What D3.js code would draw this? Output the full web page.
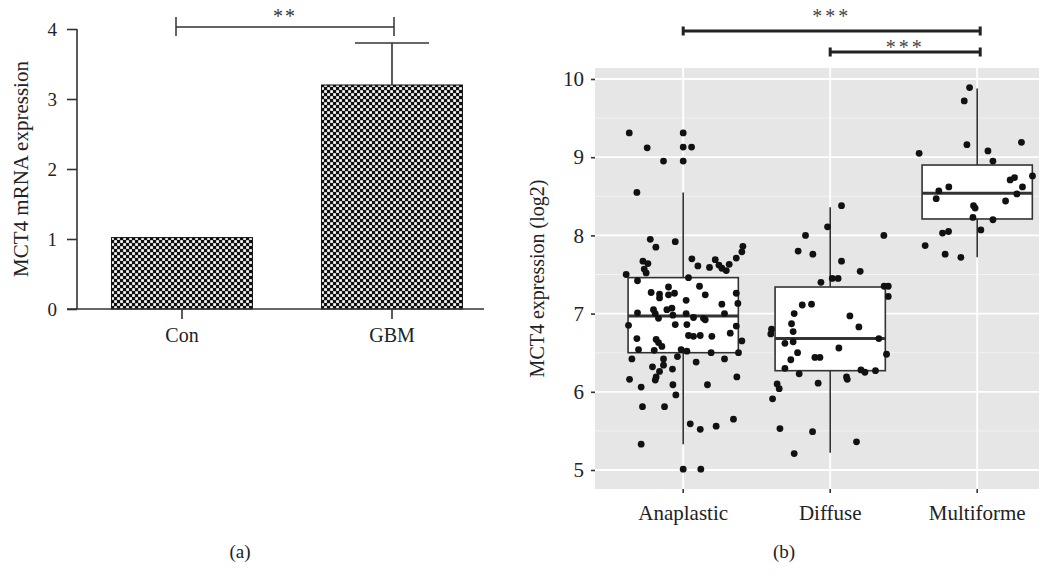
<!DOCTYPE html>
<html>
<head>
<meta charset="utf-8">
<script src="https://cdn.jsdelivr.net/npm/d3@7"></script>
<style>
  body { margin: 0; background: #fff; }
  svg { display: block; font-family: "Liberation Serif", "Times New Roman", serif; }
</style>
</head>
<body>
<svg id="chart" width="1039" height="574"></svg>
<script>
// ---- panel (a) data
var barCats = ["Con", "GBM"];
var barVals = [1.02, 3.2];
var barErr = [0, 0.6];
var barTicks = [0, 1, 2, 3, 4];

// ---- panel (b) data
var groups = ["Anaplastic", "Diffuse", "Multiforme"];
// box stats: [whiskerLow, q1, median, q3, whiskerHigh]
var boxAnaplastic = [5.33, 6.50, 6.97, 7.46, 8.55];
var boxDiffuse = [5.22, 6.27, 6.68, 7.34, 8.36];
var boxMultiforme = [7.72, 8.21, 8.54, 8.90, 9.88];
var boxTicks = [5, 6, 7, 8, 9, 10];

// points: [jitter (fraction of band), value]
var ptsAnaplastic = [
  [-0.367, 9.31], [-0.245, 9.12], [-0.134, 8.95], [-0.315, 8.55], [0.000, 9.31],
  [0.000, 9.13], [0.057, 9.13], [0.000, 8.95], [-0.224, 7.95], [-0.186, 7.85],
  [-0.054, 7.92], [-0.274, 7.67], [-0.240, 7.64], [-0.265, 7.57], [-0.252, 7.52],
  [-0.388, 7.50], [-0.311, 7.42], [0.059, 7.70], [0.100, 7.61], [0.036, 7.46],
  [0.179, 7.59], [0.218, 7.69], [0.243, 7.62], [0.263, 7.58], [0.293, 7.55],
  [0.313, 7.63], [0.361, 7.71], [0.399, 7.79], [0.406, 7.86], [-0.100, 7.34],
  [0.111, 7.35], [-0.218, 7.27], [-0.161, 7.25], [-0.100, 7.24], [-0.059, 7.26],
  [-0.161, 7.20], [0.150, 7.24], [0.020, 7.17], [0.361, 7.26], [0.263, 7.12],
  [0.372, 7.13], [-0.202, 7.05], [-0.111, 7.05], [-0.077, 7.07], [-0.311, 7.01],
  [-0.190, 7.00], [-0.168, 6.94], [-0.070, 6.98], [0.020, 7.00], [0.070, 6.95],
  [0.138, 6.94], [0.150, 6.92], [0.281, 7.00], [-0.372, 6.85], [-0.054, 6.86],
  [0.025, 6.86], [0.361, 6.84], [0.320, 6.75], [0.036, 6.72], [0.070, 6.71],
  [0.116, 6.72], [0.195, 6.71], [-0.315, 6.68], [-0.184, 6.67], [-0.168, 6.63],
  [-0.145, 6.58], [0.399, 6.65], [-0.304, 6.54], [-0.197, 6.53], [-0.014, 6.54],
  [0.025, 6.52], [0.190, 6.50], [0.376, 6.50], [-0.349, 6.42], [-0.134, 6.42],
  [-0.039, 6.45], [0.088, 6.38], [0.281, 6.42], [-0.134, 6.34], [-0.209, 6.32],
  [-0.073, 6.29], [-0.161, 6.26], [-0.184, 6.19], [-0.190, 6.15], [-0.365, 6.16],
  [0.365, 6.19], [-0.286, 6.06], [-0.070, 6.09], [0.165, 6.09], [-0.050, 5.96],
  [-0.277, 5.81], [-0.127, 5.81], [0.048, 5.59], [0.116, 5.52], [0.224, 5.56],
  [0.342, 5.65], [-0.286, 5.33], [0.000, 5.01], [0.120, 5.01]
];
var ptsDiffuse = [
  [0.077, 8.38], [-0.018, 8.11], [-0.168, 8.00], [0.365, 8.00], [-0.218, 7.80],
  [-0.118, 7.76], [0.077, 7.67], [0.204, 7.54], [-0.063, 7.40], [0.014, 7.45],
  [0.054, 7.45], [0.367, 7.35], [0.395, 7.35], [0.395, 7.22], [-0.190, 7.11],
  [-0.127, 7.12], [-0.245, 7.00], [0.134, 6.97], [-0.263, 6.87], [0.195, 6.83],
  [-0.399, 6.80], [-0.404, 6.74], [-0.252, 6.77], [-0.308, 6.62], [-0.252, 6.64],
  [0.331, 6.68], [0.383, 6.48], [0.059, 6.56], [-0.222, 6.50], [-0.104, 6.44],
  [-0.070, 6.44], [-0.268, 6.41], [-0.308, 6.30], [-0.211, 6.23], [0.209, 6.28],
  [0.236, 6.25], [0.308, 6.27], [0.111, 6.19], [0.116, 6.16], [-0.082, 6.11],
  [-0.361, 6.10], [-0.347, 6.04], [-0.392, 5.91], [-0.342, 5.53], [-0.120, 5.49],
  [0.179, 5.36], [-0.245, 5.21]
];
var ptsMultiforme = [
  [-0.052, 9.89], [-0.088, 9.72], [-0.070, 9.16], [0.301, 9.19], [-0.395, 9.05],
  [0.073, 9.08], [0.107, 8.95], [0.224, 8.71], [0.254, 8.74], [0.376, 8.76],
  [0.308, 8.62], [-0.193, 8.62], [-0.261, 8.57], [-0.279, 8.47], [0.270, 8.53],
  [0.193, 8.44], [-0.025, 8.38], [-0.014, 8.35], [-0.029, 8.23], [0.107, 8.20],
  [0.025, 8.07], [-0.236, 8.03], [-0.195, 8.05], [-0.354, 7.87], [-0.218, 7.76],
  [-0.111, 7.72]
];

var boxes = [boxAnaplastic, boxDiffuse, boxMultiforme];
var points = [ptsAnaplastic, ptsDiffuse, ptsMultiforme];

var svg = d3.select("#chart");
var ink = "#333";
var serif = "'Liberation Serif', serif";

function styleAxis(g, size) {
  g.attr("font-family", serif);
  g.select(".domain").remove();
  g.selectAll("line").attr("stroke", ink).attr("stroke-width", 1.6);
  g.selectAll("text").attr("font-size", size).attr("fill", "#222");
}

// ================= panel (a) =================
var xA = d3.scaleBand()
  .domain(barCats)
  .range([77, 497])
  .paddingInner(0.329)
  .paddingOuter(0.1645);
var yA = d3.scaleLinear()
  .domain([0, 4])
  .range([309, 29]);

var defs = svg.append("defs");
var pat = defs.append("pattern")
  .attr("id", "check")
  .attr("patternUnits", "userSpaceOnUse")
  .attr("width", 6)
  .attr("height", 6);
pat.append("rect").attr("width", 6).attr("height", 6).attr("fill", "#111");
pat.append("rect").attr("x", 0.2).attr("y", 0.2).attr("width", 2.7).attr("height", 2.7).attr("fill", "#fff");
pat.append("rect").attr("x", 3.2).attr("y", 3.2).attr("width", 2.7).attr("height", 2.7).attr("fill", "#fff");

var gA = svg.append("g");

gA.selectAll(".bar")
  .data(barVals)
  .enter().append("rect")
  .attr("class", "bar")
  .attr("x", function(d, i) { return xA(barCats[i]); })
  .attr("width", xA.bandwidth())
  .attr("y", function(d) { return yA(d); })
  .attr("height", function(d) { return yA(0) - yA(d); })
  .attr("fill", "url(#check)")
  .attr("stroke", "#111")
  .attr("stroke-width", 1);

// error bars (upper only)
barVals.forEach(function(d, i) {
  if (!barErr[i]) return;
  var cx = xA(barCats[i]) + xA.bandwidth() / 2;
  var capW = xA.bandwidth() * 0.525;
  gA.append("line")
    .attr("x1", cx).attr("x2", cx)
    .attr("y1", yA(d)).attr("y2", yA(d + barErr[i]))
    .attr("stroke", ink).attr("stroke-width", 1.6);
  gA.append("line")
    .attr("x1", cx - capW / 2).attr("x2", cx + capW / 2)
    .attr("y1", yA(d + barErr[i])).attr("y2", yA(d + barErr[i]))
    .attr("stroke", ink).attr("stroke-width", 1.6);
});

// axes
var yAxisA = d3.axisLeft(yA).tickValues(barTicks).tickFormat(d3.format("d"))
  .tickSize(10).tickPadding(10);
gA.append("g")
  .attr("transform", "translate(77,0)")
  .call(yAxisA)
  .call(styleAxis, 19);
gA.append("line")
  .attr("x1", 77).attr("x2", 77)
  .attr("y1", yA(4)).attr("y2", yA(0))
  .attr("stroke", ink).attr("stroke-width", 1.6);

var xAxisA = d3.axisBottom(xA).tickSize(10).tickPadding(9);
gA.append("g")
  .attr("transform", "translate(0," + yA(0) + ")")
  .call(xAxisA)
  .call(styleAxis, 20);
gA.append("line")
  .attr("x1", 67).attr("x2", 484)
  .attr("y1", yA(0)).attr("y2", yA(0))
  .attr("stroke", ink).attr("stroke-width", 1.6);

gA.append("text")
  .attr("transform", "translate(21," + (yA(2)) + ") rotate(-90)")
  .attr("text-anchor", "middle")
  .attr("dy", "0.35em")
  .attr("font-size", 21)
  .attr("fill", "#222")
  .text("MCT4 mRNA expression");

// significance bracket (a)
var bx1 = xA("Con") + xA.bandwidth() / 2 - 6;
var bx2 = xA("GBM") + xA.bandwidth() / 2 + 2;
gA.append("path")
  .attr("d", "M" + bx1 + ",17V36M" + bx1 + ",27H" + bx2 + "M" + bx2 + ",17V36")
  .attr("fill", "none").attr("stroke", ink).attr("stroke-width", 1.5);
gA.append("text")
  .attr("x", (bx1 + bx2) / 2).attr("y", 23)
  .attr("text-anchor", "middle")
  .attr("font-size", 20).attr("fill", "#333")
  .attr("letter-spacing", 2)
  .text("**");

gA.append("text")
  .attr("x", 240).attr("y", 558)
  .attr("text-anchor", "middle")
  .attr("font-size", 19).attr("fill", "#222")
  .text("(a)");

// ================= panel (b) =================
var xB = d3.scaleBand()
  .domain(groups)
  .range([595, 1065.4])
  .paddingInner(0)
  .paddingOuter(0.1);
var yB = d3.scaleLinear()
  .domain([5, 10])
  .range([470, 79]);
var panelTop = 68, panelBot = 489;
var bw = xB.bandwidth();
function cx(g) { return xB(g) + bw / 2; }

var gB = svg.append("g");
gB.append("rect")
  .attr("x", 595).attr("y", panelTop)
  .attr("width", 1065.4 - 595).attr("height", panelBot - panelTop)
  .attr("fill", "#e6e6e6");

// minor grid
var minor = [5.5, 6.5, 7.5, 8.5, 9.5];
gB.selectAll(".minor")
  .data(minor)
  .enter().append("line")
  .attr("x1", 595).attr("x2", 1066)
  .attr("y1", function(d) { return yB(d); })
  .attr("y2", function(d) { return yB(d); })
  .attr("stroke", "#f4f4f4").attr("stroke-width", 0.9);
// major grid
gB.selectAll(".major")
  .data(boxTicks)
  .enter().append("line")
  .attr("x1", 595).attr("x2", 1066)
  .attr("y1", function(d) { return yB(d); })
  .attr("y2", function(d) { return yB(d); })
  .attr("stroke", "#fff").attr("stroke-width", 1.8);
gB.selectAll(".vmajor")
  .data(groups)
  .enter().append("line")
  .attr("x1", cx).attr("x2", cx)
  .attr("y1", panelTop).attr("y2", panelBot)
  .attr("stroke", "#fff").attr("stroke-width", 1.8);

// boxes
var boxW = bw * 0.75;
boxes.forEach(function(b, i) {
  var c = cx(groups[i]);
  gB.append("line")
    .attr("x1", c).attr("x2", c)
    .attr("y1", yB(b[0])).attr("y2", yB(b[1]))
    .attr("stroke", ink).attr("stroke-width", 1.6);
  gB.append("line")
    .attr("x1", c).attr("x2", c)
    .attr("y1", yB(b[3])).attr("y2", yB(b[4]))
    .attr("stroke", ink).attr("stroke-width", 1.6);
  gB.append("rect")
    .attr("x", c - boxW / 2).attr("width", boxW)
    .attr("y", yB(b[3])).attr("height", yB(b[1]) - yB(b[3]))
    .attr("fill", "#fff").attr("stroke", ink).attr("stroke-width", 1.6);
  gB.append("line")
    .attr("x1", c - boxW / 2).attr("x2", c + boxW / 2)
    .attr("y1", yB(b[2])).attr("y2", yB(b[2]))
    .attr("stroke", ink).attr("stroke-width", 3);
});

// points
points.forEach(function(pts, i) {
  var c = cx(groups[i]);
  gB.selectAll(".pt" + i)
    .data(pts)
    .enter().append("circle")
    .attr("cx", function(d) { return c + d[0] * bw; })
    .attr("cy", function(d) { return yB(d[1]); })
    .attr("r", 3.4)
    .attr("fill", "#111");
});

// axes (b)
var yAxisB = d3.axisLeft(yB).tickValues(boxTicks).tickFormat(d3.format("d"))
  .tickSize(4).tickPadding(7);
gB.append("g")
  .attr("transform", "translate(595,0)")
  .call(yAxisB)
  .call(styleAxis, 21);
var xAxisB = d3.axisBottom(xB).tickSize(4).tickPadding(12);
gB.append("g")
  .attr("transform", "translate(0," + panelBot + ")")
  .call(xAxisB)
  .call(styleAxis, 21);

gB.append("text")
  .attr("transform", "translate(537," + ((panelTop + panelBot) / 2) + ") rotate(-90)")
  .attr("text-anchor", "middle")
  .attr("dy", "0.35em")
  .attr("font-size", 20)
  .attr("fill", "#222")
  .text("MCT4 expression (log2)");

// significance brackets (b)
var brackets = [
  { a: "Anaplastic", b: "Multiforme", y: 31, ly: 12, label: "***" },
  { a: "Diffuse", b: "Multiforme", y: 52, ly: 43, label: "***" }
];
brackets.forEach(function(br) {
  var x1 = cx(br.a), x2 = cx(br.b) + 3;
  gB.append("path")
    .attr("d", "M" + x1 + "," + (br.y - 4.5) + "V" + (br.y + 4.5) +
      "M" + x1 + "," + br.y + "H" + x2 +
      "M" + x2 + "," + (br.y - 4.5) + "V" + (br.y + 4.5))
    .attr("fill", "none").attr("stroke", "#222").attr("stroke-width", 3);
  gB.append("text")
    .attr("x", (x1 + x2) / 2).attr("y", br.ly + 11)
    .attr("text-anchor", "middle")
    .attr("font-size", 20).attr("fill", "#444")
    .attr("letter-spacing", 3)
    .text(br.label);
});

gB.append("text")
  .attr("x", 784).attr("y", 558)
  .attr("text-anchor", "middle")
  .attr("font-size", 19).attr("fill", "#222")
  .text("(b)");
</script>
</body>
</html>
